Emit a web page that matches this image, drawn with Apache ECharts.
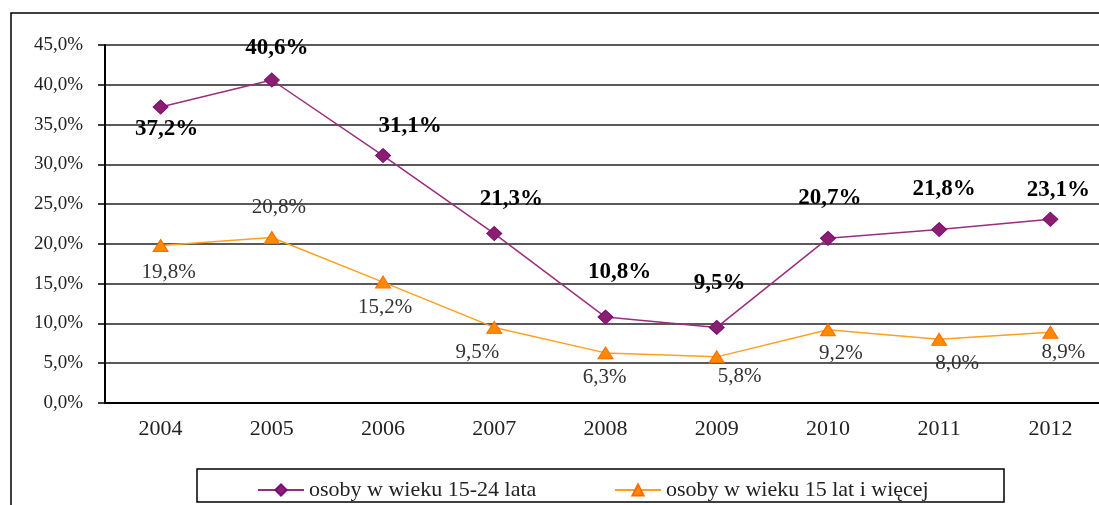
<!DOCTYPE html>
<html>
<head>
<meta charset="utf-8">
<script src="https://cdn.jsdelivr.net/npm/echarts@6/dist/echarts.min.js"></script>
<style>
  html, body { margin: 0; padding: 0; background: #fff; }
  #chart { width: 1099px; height: 505px; }
</style>
</head>
<body>
<div id="chart"></div>
<script>
// dane
const years = ["2004", "2005", "2006", "2007", "2008", "2009", "2010", "2011", "2012"];
const young = [37.2, 40.6, 31.1, 21.3, 10.8, 9.5, 20.7, 21.8, 23.1];
const all = [19.8, 20.8, 15.2, 9.5, 6.3, 5.8, 9.2, 8.0, 8.9];
const youngName = "osoby w wieku 15-24 lata";
const allName = "osoby w wieku 15 lat i więcej";

// przesunięcia etykiet względem punktów
const youngLabelOffset = [[6, 22], [5, -32], [27, -30], [17, -34], [14, -45], [3, -44], [2, -40], [5, -41], [8, -29]];
const allLabelOffset = [[8, 27], [7, -30], [2, 25], [-17, 25], [-1, 25], [23, 20], [13, 24], [18, 24], [13, 20]];

const font = "'Liberation Serif', 'Times New Roman', serif";
const fmt = (v) => v.toFixed(1).replace(".", ",") + "%";

const chart = echarts.init(document.getElementById("chart"));

const option = {
  animation: false,
  textStyle: { fontFamily: font },
  grid: { left: 105, top: 45, width: 1001, height: 358, outerBoundsMode: "none" },
  xAxis: {
    type: "category",
    data: years,
    boundaryGap: true,
    axisLine: { lineStyle: { color: "#000", width: 2 } },
    axisTick: { length: 6, lineStyle: { color: "#000", width: 1.5 } },
    axisLabel: { fontFamily: font, fontSize: 22, color: "#222", margin: 15 },
  },
  yAxis: {
    type: "value",
    min: 0,
    max: 45,
    interval: 5,
    axisLine: { show: true, lineStyle: { color: "#000", width: 2 } },
    axisTick: { show: true, length: 7, lineStyle: { color: "#000", width: 1.5 } },
    axisLabel: { fontFamily: font, fontSize: 19, color: "#222", margin: 22, formatter: fmt },
    splitLine: { lineStyle: { color: "#222", width: 1.5 } },
  },
  legend: [
    {
      data: [youngName],
      left: 252,
      top: 474,
      itemWidth: 46,
      itemHeight: 14,
      textStyle: { fontFamily: font, fontSize: 22, color: "#222" },
    },
    {
      data: [allName],
      left: 609,
      top: 474,
      itemWidth: 46,
      itemHeight: 14,
      textStyle: { fontFamily: font, fontSize: 22, color: "#222" },
    },
  ],
  graphic: [
    {
      type: "rect",
      shape: { x: 11, y: 13, width: 1200, height: 600 },
      style: { fill: "none", stroke: "#000", lineWidth: 1.5 },
      silent: true,
    },
    {
      type: "rect",
      shape: { x: 197, y: 469, width: 807, height: 33 },
      style: { fill: "none", stroke: "#000", lineWidth: 1.5 },
      silent: true,
    },
  ],
  series: [
    {
      name: youngName,
      type: "line",
      data: young.map((v, i) => ({
        value: v,
        label: { offset: youngLabelOffset[i] },
      })),
      symbol: "diamond",
      symbolSize: [15, 14],
      lineStyle: { color: "#9b2d7e", width: 1.5 },
      itemStyle: { color: "#8b1f6f", borderColor: "#7a0a7e", borderWidth: 1 },
      label: {
        show: true,
        position: "inside",
        formatter: (p) => fmt(p.value),
        fontFamily: font,
        fontSize: 23,
        fontWeight: "bold",
        color: "#000",
      },
      z: 3,
    },
    {
      name: allName,
      type: "line",
      data: all.map((v, i) => ({
        value: v,
        label: { offset: allLabelOffset[i] },
      })),
      symbol: "triangle",
      symbolSize: [15, 12],
      lineStyle: { color: "#ffa01e", width: 1.5 },
      itemStyle: { color: "#ff8a00", borderColor: "#ff6a00", borderWidth: 1 },
      label: {
        show: true,
        position: "inside",
        formatter: (p) => fmt(p.value),
        fontFamily: font,
        fontSize: 21,
        color: "#333",
      },
      z: 2,
    },
  ],
};

chart.setOption(option);
</script>
</body>
</html>
